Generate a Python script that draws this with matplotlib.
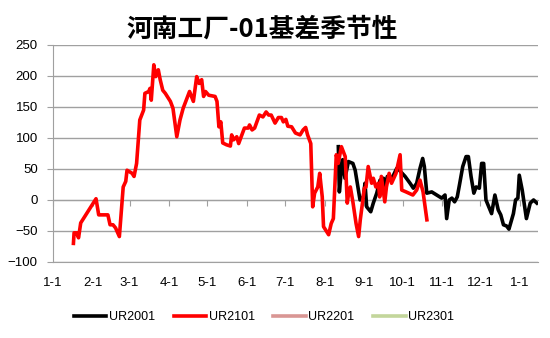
import matplotlib
matplotlib.use("Agg")
import matplotlib.pyplot as plt
import pandas as pd

plt.rcParams["font.family"] = ["Liberation Sans", "Noto Sans CJK SC", "DejaVu Sans"]

title = "河南工厂-01基差季节性"
series_names = ["UR2001", "UR2101", "UR2201", "UR2301"]
series_colors = ["#000000", "#ff0000", "#d99694", "#c3d69b"]
month_labels = ["1-1", "2-1", "3-1", "4-1", "5-1", "6-1", "7-1", "8-1", "9-1", "10-1", "11-1", "12-1", "1-1"]
y_ticks = [-100, -50, 0, 50, 100, 150, 200, 250]

# days since 1-1 of the season year
ur2101_days = [16, 16.5, 18.5, 20, 21.7, 33.7, 35.8, 43, 44.7, 47, 49, 52, 55, 57, 58, 62, 63.5, 65.5, 68, 71,
               72, 75, 76, 77, 79, 80.5, 82.5, 84, 86, 88, 92, 94, 97, 99.5, 102, 107, 110, 112.6, 114.5, 116.5,
               118, 119.5, 122, 127, 128.5, 130, 131.5, 133, 136, 139, 140, 141.5, 144, 145.5, 148, 150, 153, 154,
               156, 158, 161.7, 164.5, 167, 169, 171, 174, 176.6, 179, 180.5, 182.5, 184, 187, 190, 193.6, 196,
               198, 199.5, 202, 203.5, 205, 207.5, 209, 211, 212, 216, 218, 219.7, 222, 223.5, 226, 229, 230.6,
               232, 233, 235, 237.5, 239.5, 240.8, 244, 245.3, 247, 249.7, 251, 253, 255, 256, 257.3, 260, 261.3,
               263.4, 265.3, 268.8, 272, 273.3, 276.7, 282, 285, 287.6, 290, 293]
ur2101_vals = [-70, -53, -53, -61, -37, 2, -24, -24, -40, -40, -45, -59, 21, 30, 48, 43, 38, 59, 129, 145,
               172, 175, 180, 161, 218, 199, 210, 194, 177, 172, 159, 148, 102, 129, 148, 175, 159, 199, 188, 194,
               167, 175, 169, 167, 159, 118, 126, 92, 89, 87, 105, 97, 102, 91, 105, 116, 116, 121,
               113, 116, 137, 134, 142, 137, 137, 124, 133, 133, 126, 130, 119, 118, 108, 105, 113,
               117, 105, 91, -11, 11, 21, 43, 5, -43, -56, -38, -30, 73, 59, 86, 70, -5,
               16, 21, -3, -38, -59, -32, 19, 21, 54, 27, 35, 21, 27, 5, 38, -3, 21,
               43, 27, 43, 73, 16, 13, 8, 16, 32, 13, -32]

ur2001_days = [223.6, 224.4, 225.5, 227, 228.8, 231.5, 235, 236.8, 240.6, 243.2, 244.5, 245.8, 249, 251, 253.7,
               256.3, 259, 260.3, 262, 264.2, 266.8, 269.4, 271.4, 275.9, 279.8, 282.4, 285, 287.6, 289.7, 291,
               292.9, 296.8, 300.7, 304.6, 307.2, 308.5, 310.5, 312.6, 314.7, 316.8, 318.5, 321.1, 323.7, 325.5,
               327.6, 329.8, 331.6, 334.1, 335.9, 337.5, 339.3, 343.7, 346.3, 348.9, 350.9, 353, 355.5, 357.3,
               360.8, 362.5, 364.3, 365.4, 367.7, 371, 374, 376.6, 379.2]
ur2001_vals = [86, 13, 38, 65, 35, 62, 59, 48, 0, 5, 27, -11, -19, -5, 11,
               32, 35, 19, 38, 32, 40, 51, 48, 38, 27, 19, 27, 51, 67, 54,
               11, 13, 8, 3, 8, -30, 0, 3, -3, 5, 24, 54, 70, 70,
               38, 11, 21, 19, 59, 59, 0, -22, 8, -16, -24, -40, -42, -47,
               -22, 0, 3, 40, 16, -30, -5, 0, -5]

ur2201_days, ur2201_vals = [], []
ur2301_days, ur2301_vals = [], []

month_starts = pd.date_range("2020-01-01", "2021-01-01", freq="MS")
tick_days = list((month_starts - month_starts[0]).days)

grey = "#a0a0a0"
fig = plt.figure(figsize=(5.5, 3.38), dpi=100)
ax = fig.add_axes([0.0964, 0.2249, 0.8816, 0.642])

data = [(ur2001_days, ur2001_vals), (ur2101_days, ur2101_vals), (ur2201_days, ur2201_vals), (ur2301_days, ur2301_vals)]
for (d, v), name, c in zip(data, series_names, series_colors):
    ax.plot(d, v, color=c, lw=2.6, label=name, solid_joinstyle="round", zorder=3)

ax.set_xlim(0, 380)
ax.set_ylim(-100, 250)
ax.set_yticks(y_ticks)
ax.yaxis.grid(True, color=grey, lw=1)
ax.set_axisbelow(True)

# the category axis crosses at zero; its labels sit under the plot
ax.spines["bottom"].set_position(("data", 0))
ax.spines["bottom"].set_color(grey)
ax.spines["left"].set_color(grey)
ax.spines["top"].set_visible(False)
ax.spines["right"].set_visible(False)
ax.set_xticks(tick_days)
ax.tick_params(axis="x", direction="out", length=4, color=grey, labelbottom=False)
ax.tick_params(axis="y", direction="out", length=4, color=grey, labelsize=9.5, pad=7)

sec = ax.secondary_xaxis(0)
sec.set_xticks(tick_days)
sec.set_xticklabels(month_labels)
sec.spines["bottom"].set_color(grey)
sec.tick_params(length=0, labelsize=9.5, pad=11)

fig.text(0.476, 0.915, title, ha="center", va="center", fontsize=18.5, fontweight="bold",
         family=["Noto Sans CJK SC", "DejaVu Sans"])

fig.legend(loc="center", bbox_to_anchor=(0.48, 0.062), ncol=4, frameon=False, fontsize=9,
           handlelength=2.6, handletextpad=0.2, columnspacing=1.5)

fig.savefig("out.png", dpi=100)
